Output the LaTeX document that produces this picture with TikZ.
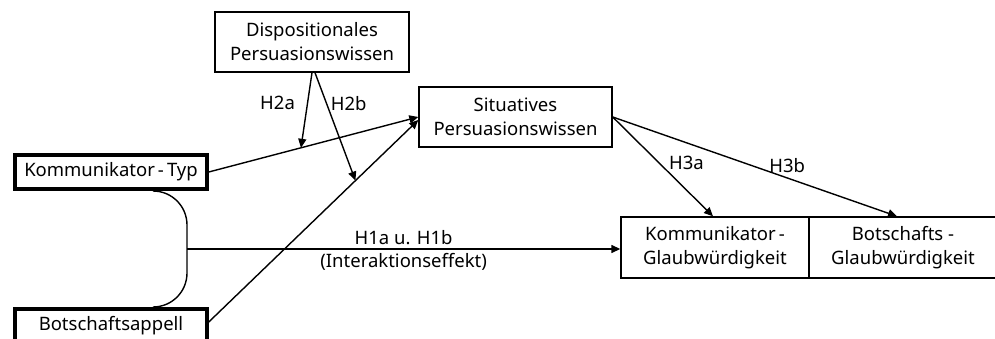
\documentclass[tikz,border=0pt]{standalone}
\usepackage{fontspec}
\setmainfont{Noto Sans}
\usetikzlibrary{arrows.meta}

\begin{document}
\begin{tikzpicture}[x=1pt,y=1pt,
  box/.style={draw, line width=1.4pt, align=center, inner sep=0pt, font=\fontsize{18.5}{24}\selectfont},
  thickbox/.style={box, line width=4pt},
  link/.style={draw, line width=1.4pt, -{Triangle[length=9pt,width=8pt]}},
  lbl/.style={font=\fontsize{18.5}{22}\selectfont, inner sep=2pt}]
\useasboundingbox (0,0) rectangle (995,338);
\node[box, minimum width=194, minimum height=60] (disp) at (312,296) {Dispositionales\\Persuasionswissen};
\node[box, minimum width=193, minimum height=60] (sit) at (515.5,221) {Situatives\\Persuasionswissen};
\node[thickbox, minimum width=191.5, minimum height=34] (kt) at (111,166) {Kommunikator\,-\,Typ};
\node[thickbox, minimum width=191.5, minimum height=34] (ba) at (111,12) {Botschaftsappell};
\node[box, minimum width=188, minimum height=61] (kg) at (715,90.5) {Kommunikator\,-\\Glaubwürdigkeit};
\node[box, minimum width=188, minimum height=61] (bg) at (903,90.5) {Botschafts -\\Glaubwürdigkeit};
\coordinate (br) at (187,89);
% paths to situatives persuasionswissen
\path[link] (kt.east) -- coordinate[pos=0.44] (ka) (sit.west);
\path[link] ([yshift=4pt]ba.east) -- coordinate[pos=0.70] (bb) ([yshift=-3pt]sit.west);
% moderation
\path[link] (disp.south) -- node[lbl, left=10pt, pos=0.4] (h2a) {H2a} (ka);
\path[link] ([xshift=3pt]disp.south) -- node[lbl, right=1.5pt, pos=0.29] (h2b) {H2b} (bb);
% interaction
\path[draw, line width=1.4pt] ([xshift=42pt]kt.south) to[out=0,in=90] ([yshift=24pt]br) -- ([yshift=-24pt]br) to[out=-90,in=0] ([xshift=42pt]ba.north);
\path[link] (br) -- node[lbl, above=2pt] (h1) {H1a u. H1b} node[lbl, below=2pt] (ie) {(Interaktionseffekt)} (br -| kg.west);
% credibility
\path[link] (sit.east) -- node[lbl, right=7.5pt, pos=0.46] (h3a) {H3a} ([xshift=-2pt]kg.north);
\path[link] (sit.east) -- node[lbl, above=3pt, pos=0.614] (h3b) {H3b} ([xshift=-6pt]bg.north);
\end{tikzpicture}
\end{document}
